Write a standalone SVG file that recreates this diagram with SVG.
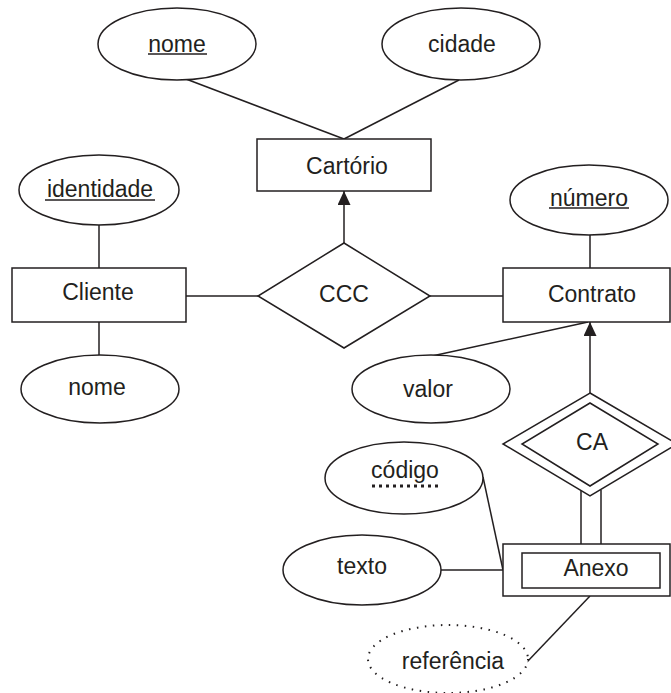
<svg xmlns="http://www.w3.org/2000/svg" width="671" height="693" viewBox="0 0 671 693">
<style>
.s{fill:#fff;stroke:#231f20;stroke-width:1.5}
.l{stroke:#231f20;stroke-width:1.5;fill:none}
.t{font-family:"Liberation Sans",Arial,sans-serif;font-size:23px;fill:#231f20;text-anchor:middle}
</style>
<defs>
<marker id="ah" viewBox="0 0 14 13" refX="14" refY="6.5" markerWidth="14" markerHeight="13" markerUnits="userSpaceOnUse" orient="auto">
<path d="M0,0 L14,6.5 L0,13 Z" fill="#231f20"/>
</marker>
</defs>
<g id="connectors">
<line class="l" x1="186" y1="79" x2="344" y2="139"/>
<line class="l" x1="459" y1="80" x2="344" y2="139"/>
<line class="l" x1="344" y1="243" x2="344" y2="191" marker-end="url(#ah)"/>
<line class="l" x1="99" y1="225" x2="99" y2="268"/>
<line class="l" x1="99" y1="322" x2="99" y2="356"/>
<line class="l" x1="186" y1="296" x2="258" y2="296"/>
<line class="l" x1="430" y1="296" x2="503" y2="296"/>
<line class="l" x1="590" y1="234" x2="590" y2="268"/>
<line class="l" x1="432" y1="356" x2="588" y2="322"/>
<line class="l" x1="590" y1="393" x2="590" y2="322" marker-end="url(#ah)"/>
<line class="l" x1="581" y1="490" x2="581" y2="544"/>
<line class="l" x1="601" y1="490" x2="601" y2="544"/>
<line class="l" x1="483" y1="477" x2="503" y2="570"/>
<line class="l" x1="441" y1="570" x2="503" y2="570"/>
<line class="l" x1="590" y1="596" x2="527" y2="662"/>
</g>
<g id="nome_cartorio">
<ellipse class="s" cx="177" cy="44" rx="79" ry="36"/>
<text class="t" x="177" y="52">nome</text>
<line class="l" x1="148" y1="54" x2="207" y2="54"/>
</g>
<g id="cidade">
<ellipse class="s" cx="461" cy="44" rx="79" ry="36"/>
<text class="t" x="462" y="52">cidade</text>
</g>
<g id="cartorio">
<rect class="s" x="257" y="139" width="174" height="52"/>
<text class="t" x="347" y="174">Cartório</text>
</g>
<g id="identidade">
<ellipse class="s" cx="99" cy="190" rx="80" ry="35"/>
<text class="t" x="100" y="197">identidade</text>
<line class="l" x1="45" y1="200" x2="155" y2="200"/>
</g>
<g id="cliente">
<rect class="s" x="12" y="268" width="174" height="54"/>
<text class="t" x="98" y="300">Cliente</text>
</g>
<g id="nome_cliente">
<ellipse class="s" cx="100" cy="389" rx="79" ry="34"/>
<text class="t" x="97" y="395">nome</text>
</g>
<g id="ccc">
<polygon class="s" points="344,243 430,296 344,348 258,296"/>
<text class="t" x="344" y="302">CCC</text>
</g>
<g id="numero">
<ellipse class="s" cx="589" cy="200" rx="79" ry="35"/>
<text class="t" x="589" y="206">número</text>
<line class="l" x1="549" y1="208" x2="629" y2="208"/>
</g>
<g id="contrato">
<rect class="s" x="503" y="268" width="167" height="54"/>
<text class="t" x="592" y="302">Contrato</text>
</g>
<g id="valor">
<ellipse class="s" cx="431" cy="389" rx="79" ry="34"/>
<text class="t" x="428" y="397">valor</text>
</g>
<g id="ca">
<polygon class="s" points="590,393 677,444 590,496 503,444"/>
<polygon class="s" points="590,403 658,444 590,486 522,444"/>
<text class="t" x="592" y="450">CA</text>
</g>
<g id="codigo">
<ellipse class="s" cx="404" cy="478" rx="79" ry="36"/>
<text class="t" x="405" y="478">código</text>
<line x1="372" y1="486" x2="440" y2="486" stroke="#231f20" stroke-width="3" stroke-dasharray="3,4"/>
</g>
<g id="texto">
<ellipse class="s" cx="362" cy="570" rx="79" ry="35"/>
<text class="t" x="362" y="574">texto</text>
</g>
<g id="anexo">
<rect class="s" x="503" y="544" width="167" height="52"/>
<rect class="s" x="522" y="553" width="138" height="35"/>
<text class="t" x="596" y="576">Anexo</text>
</g>
<g id="referencia">
<ellipse cx="448" cy="659" rx="80" ry="34" fill="#fff" stroke="#231f20" stroke-width="2" stroke-dasharray="1.5,6.5"/>
<text class="t" x="453" y="669">referência</text>
</g>
</svg>
